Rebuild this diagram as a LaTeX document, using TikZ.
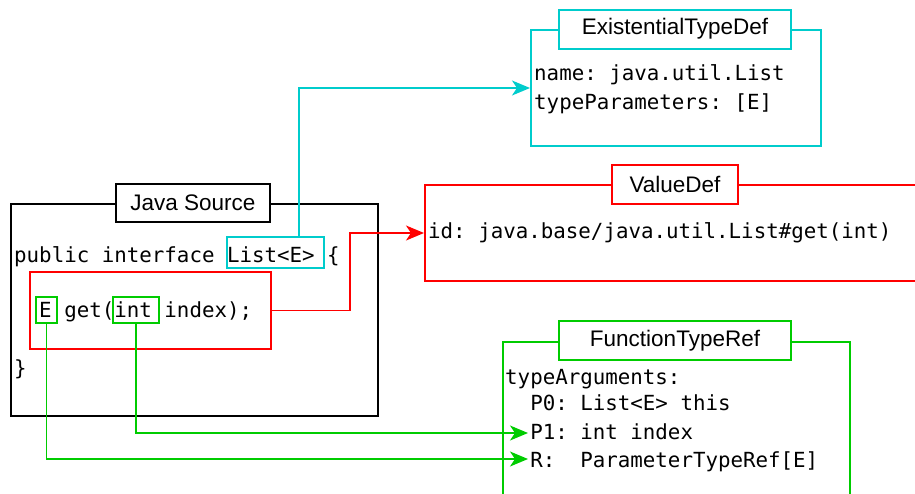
\documentclass[tikz,border=0pt]{standalone}
\usepackage{fontspec}
\setmainfont{Liberation Sans}
\setmonofont{DejaVu Sans Mono}
\usetikzlibrary{arrows.meta}
\definecolor{cy}{HTML}{00CCCC}
\definecolor{rd}{HTML}{FF0000}
\definecolor{gr}{HTML}{00CC00}
\begin{document}
\begin{tikzpicture}[x=1pt,y=-1pt,
  frame/.style={draw, line width=2pt, inner sep=0pt, anchor=north west},
  titlebox/.style={draw, fill=white, line width=2pt, inner sep=0pt, minimum height=39pt, font=\fontsize{22.5}{27}\selectfont},
  code/.style={anchor=base west, inner sep=0pt, font=\ttfamily\fontsize{20.8}{25}\selectfont},
  conn/.style={line width=1.5pt, -{Stealth[length=18pt,width=15pt,inset=5pt]}}
]
\useasboundingbox (0,0) rectangle (915,493);

% Java Source
\node[frame, minimum width=367pt, minimum height=212pt] (js) at (10,203) {};
\node[titlebox, minimum width=154pt, minimum height=38pt] (jst) at (193,203) {Java Source};
\node[frame, draw=cy, minimum width=97pt, minimum height=31pt] (listbox) at (226,236) {};
\node[frame, draw=rd, minimum width=241pt, minimum height=77pt] (redbox) at (29,271) {};
\node[frame, draw=gr, minimum width=21pt, minimum height=26pt] (ebox) at (35,296) {};
\node[frame, draw=gr, minimum width=46pt, minimum height=26pt] (intbox) at (112,296) {};
\node[code] (l1) at (14,262) {public interface List<E> \{};
\node[code] (l2) at (14,317) {\ \ E get(int index);};
\node[code] (l3) at (14,375) {\}};

% ExistentialTypeDef
\node[frame, draw=cy, minimum width=290pt, minimum height=116pt] (etd) at (530,29) {};
\node[titlebox, draw=cy, minimum width=232pt] (etdt) at (675,29) {ExistentialTypeDef};
\node[code] (e1) at (534,80) {name: java.util.List};
\node[code] (e2) at (534,109) {typeParameters: [E]};

% ValueDef
\node[frame, draw=rd, minimum width=496pt, minimum height=96pt] (vd) at (424,184) {};
\node[titlebox, draw=rd, minimum width=126pt] (vdt) at (675,184) {ValueDef};
\node[code] (v1) at (428,238) {id: java.base/java.util.List\#get(int)};

% FunctionTypeRef
\node[frame, draw=gr, minimum width=347pt, minimum height=170pt] (ftr) at (502,341) {};
\node[titlebox, draw=gr, minimum width=232pt] (ftrt) at (675,340.5) {FunctionTypeRef};
\node[code] (f1) at (505,384) {typeArguments:};
\node[code] (f2) at (505,410) {\ \ P0: List<E> this};
\node[code] (f3) at (505,439) {\ \ P1: int index};
\node[code] (f4) at (505,467) {\ \ R:\ \ ParameterTypeRef[E]};
\coordinate (p1tip) at (528,433);
\coordinate (rtip) at (528,459);

% connectors
\draw[conn, cy] ([xshift=23.5pt]listbox.north) |- (etd.west);
\draw[conn, rd] (redbox.east) -- ([xshift=78pt]redbox.east) |- (vd.west);
\draw[conn, gr] (intbox.south) |- (p1tip);
\draw[conn, gr] (ebox.south) |- (rtip);
\end{tikzpicture}
\end{document}
